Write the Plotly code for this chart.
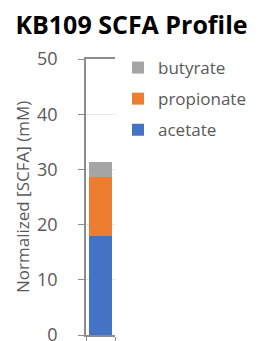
import plotly.graph_objects as go

categories = ["KB109"]
acetate = [18.0]
propionate = [10.7]
butyrate = [2.6]
series_names = ["acetate", "propionate", "butyrate"]
colors = ["#4472C4", "#ED7D31", "#A5A5A5"]
legend_ranks = [3, 2, 1]
y_ticks = [0, 10, 20, 30, 40, 50]

W, H = 255, 333  # page body has an 8px offset

fig = go.Figure()
x_pos = [0]
for i, (name, vals) in enumerate(zip(series_names, [acetate, propionate, butyrate])):
    fig.add_trace(go.Bar(
        x=x_pos, y=vals, name=name, marker=dict(color=colors[i], line=dict(width=0)),
        width=0.77, legendgroup=name, legendrank=legend_ranks[i], customdata=categories,
    ))

fig.add_annotation(text="Normalized [SCFA] (mM)", textangle=-90,
                   xref="paper", yref="paper", x=(14 - 78) / 29, y=0.5,
                   xanchor="center", yanchor="middle", showarrow=False,
                   font=dict(family="Open Sans", size=17, color="#595959"))

fig.update_layout(
    width=W, height=H,
    barmode="stack",
    plot_bgcolor="white", paper_bgcolor="white",
    margin=dict(l=78, r=148, t=51, b=6, autoexpand=False),
    title=dict(text="<b>KB109 SCFA Profile</b>", x=123.5 / W, xanchor="center",
               y=1 - 17 / H, yanchor="middle", xref="container", automargin=False,
               font=dict(family="Open Sans", size=25, color="black")),
    showlegend=True,
    legend=dict(traceorder="grouped", tracegroupgap=6,
                xref="container", yref="container",
                x=110 / W, y=1 - 42 / H, xanchor="left", yanchor="top",
                font=dict(family="Open Sans", size=17, color="#595959"),
                bgcolor="rgba(0,0,0,0)"),
    xaxis=dict(range=[-0.5, 0.5], tickvals=[-0.5, 0.5], showticklabels=False,
               ticks="outside", ticklen=6, tickcolor="#8c8c8c", automargin=False,
               showline=True, linecolor="#8c8c8c", linewidth=1.5, mirror=True,
               showgrid=False, zeroline=False, fixedrange=True),
    yaxis=dict(range=[0, 50], tickvals=y_ticks, ticks="outside", ticklen=6,
               tickcolor="#8c8c8c", showline=True, linecolor="#8c8c8c", linewidth=1.5,
               showgrid=True, gridcolor="#e6e6e6", gridwidth=1, zeroline=False,
               ticklabelstandoff=17, automargin=False, ticklabeloverflow="allow",
               tickfont=dict(family="Open Sans", size=18, color="#595959")),
)

fig.write_html("out.html")
